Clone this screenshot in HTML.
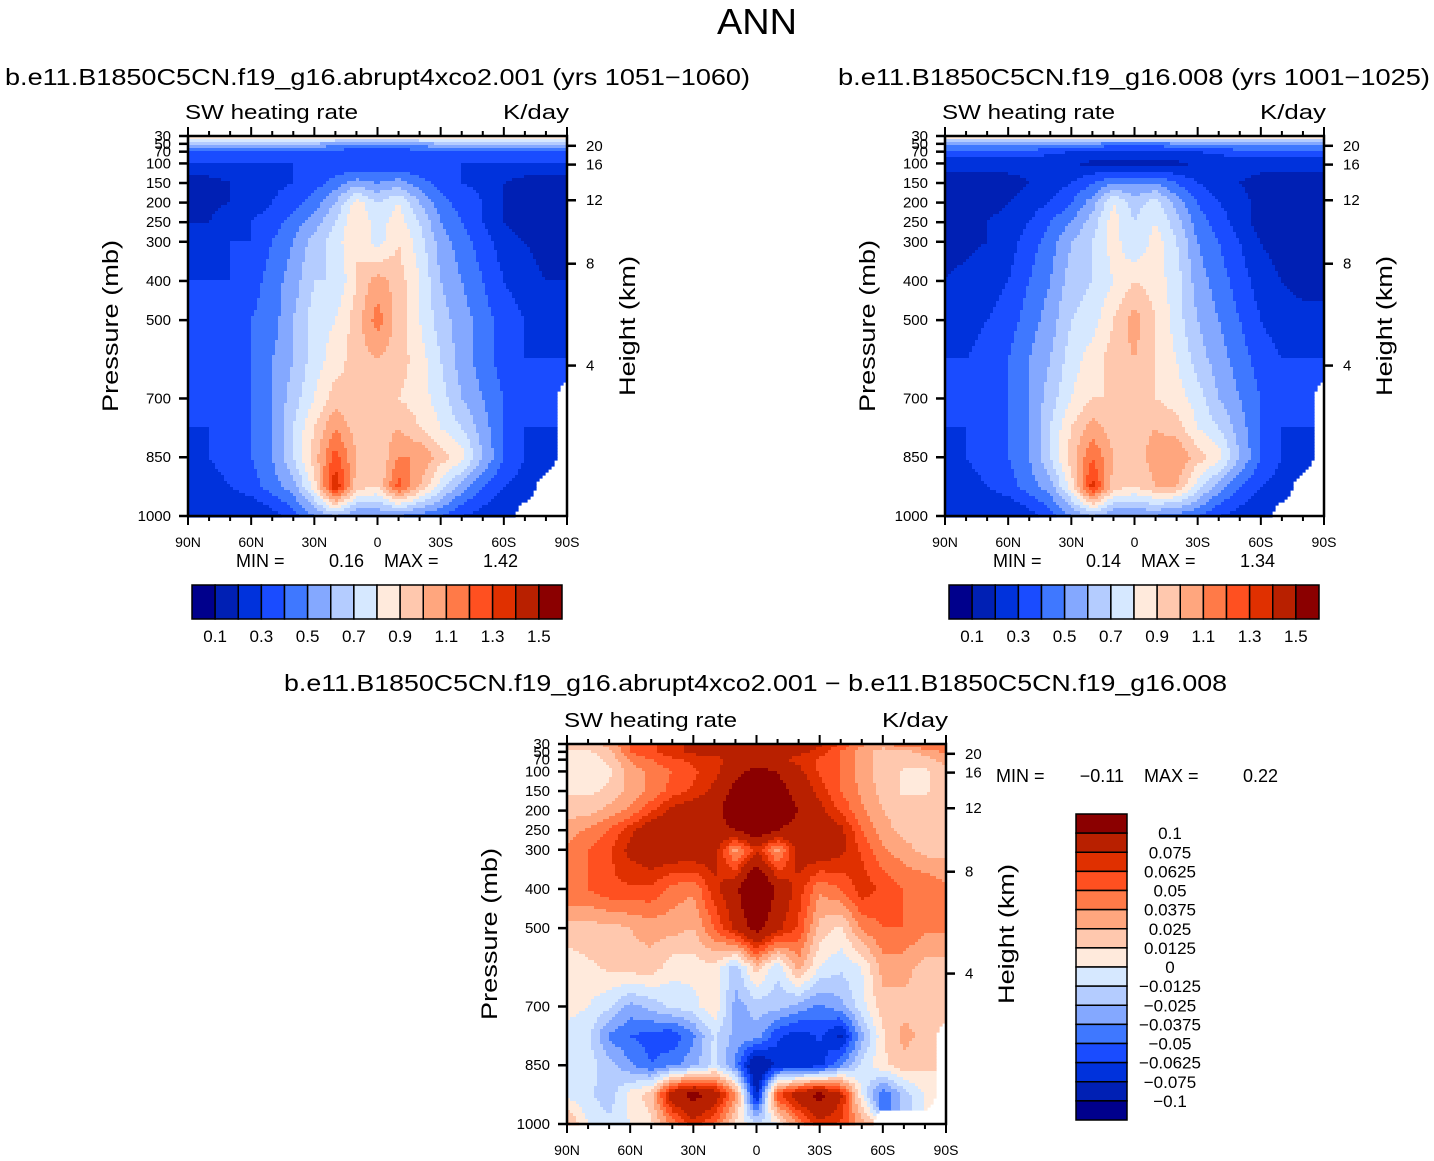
<!DOCTYPE html>
<html><head><meta charset="utf-8"><style>
html,body{margin:0;padding:0;background:#fff;}
svg{display:block;font-family:"Liberation Sans",sans-serif;}
</style></head><body>
<svg id="root" width="1434" height="1161" viewBox="0 0 1434 1161" xmlns="http://www.w3.org/2000/svg">
<text x="757" y="34" font-size="36" text-anchor="middle" textLength="80" lengthAdjust="spacingAndGlyphs">ANN</text>
<text x="5" y="85" font-size="23" textLength="745" lengthAdjust="spacingAndGlyphs">b.e11.B1850C5CN.f19_g16.abrupt4xco2.001 (yrs 1051−1060)</text>
<text x="838" y="85" font-size="23" textLength="592" lengthAdjust="spacingAndGlyphs">b.e11.B1850C5CN.f19_g16.008 (yrs 1001−1025)</text>
<text x="284" y="691" font-size="23" textLength="943" lengthAdjust="spacingAndGlyphs">b.e11.B1850C5CN.f19_g16.abrupt4xco2.001 − b.e11.B1850C5CN.f19_g16.008</text>
</svg>
<script>
const LATS=[90,80,70,60,50,40,30,20,10,0,-10,-20,-30,-40,-50,-60,-70,-80,-90];
const LEVS=[30,50,70,100,150,200,250,300,400,500,600,700,775,850,925,1000];
const N=null;
const ctlA=[
[0.9,0.9,0.9,0.9,0.9,0.9,0.9,0.9,0.95,0.95,0.95,0.9,0.9,0.9,0.9,0.9,0.9,0.9,0.9],
[0.6,0.6,0.6,0.6,0.6,0.6,0.6,0.55,0.5,0.5,0.5,0.55,0.6,0.6,0.6,0.6,0.6,0.6,0.6],
[0.4,0.4,0.4,0.4,0.4,0.4,0.38,0.35,0.35,0.35,0.35,0.35,0.38,0.4,0.4,0.4,0.4,0.4,0.4],
[0.3,0.3,0.3,0.3,0.3,0.3,0.3,0.3,0.3,0.3,0.3,0.3,0.3,0.3,0.3,0.3,0.3,0.3,0.3],
[0.15,0.15,0.2,0.25,0.28,0.3,0.35,0.45,0.55,0.5,0.55,0.45,0.35,0.3,0.28,0.2,0.15,0.15,0.15],
[0.15,0.18,0.2,0.25,0.3,0.35,0.45,0.6,0.85,0.7,0.8,0.6,0.45,0.35,0.3,0.2,0.15,0.15,0.15],
[0.2,0.2,0.25,0.3,0.35,0.45,0.55,0.7,0.9,0.75,0.85,0.7,0.5,0.4,0.3,0.2,0.15,0.15,0.15],
[0.25,0.25,0.3,0.3,0.4,0.5,0.65,0.75,0.9,0.75,0.9,0.75,0.55,0.45,0.35,0.25,0.2,0.15,0.15],
[0.3,0.3,0.3,0.35,0.45,0.55,0.7,0.7,0.9,1.05,0.95,0.8,0.6,0.5,0.4,0.3,0.25,0.2,0.2],
[0.3,0.3,0.3,0.4,0.45,0.6,0.75,0.8,0.95,1.15,0.95,0.8,0.65,0.55,0.45,0.35,0.3,0.25,0.25],
[0.3,0.3,0.35,0.4,0.5,0.6,0.75,0.85,0.95,1.0,0.95,0.85,0.7,0.55,0.45,0.35,0.3,0.3,0.3],
[0.3,0.3,0.35,0.4,0.5,0.65,0.8,0.95,0.9,0.95,0.9,0.85,0.75,0.6,0.5,0.4,0.3,0.3,N],
[0.3,0.3,0.35,0.4,0.5,0.7,0.9,1.1,0.95,0.95,1.0,0.9,0.8,0.7,0.55,0.4,0.3,0.3,N],
[0.25,0.3,0.35,0.4,0.5,0.7,0.95,1.25,1.0,0.9,1.1,1.1,0.95,0.85,0.6,0.4,0.3,0.25,N],
[0.2,0.25,0.3,0.35,0.45,0.55,0.85,1.4,0.95,0.9,1.25,1.0,0.75,0.55,0.4,0.3,0.25,N,N],
[0.2,0.2,0.2,0.2,0.25,0.35,0.5,0.6,0.5,0.5,0.5,0.45,0.4,0.3,0.25,0.2,N,N,N]];
const ctlB=[
[0.9,0.9,0.9,0.9,0.9,0.9,0.9,0.9,0.9,0.9,0.9,0.9,0.9,0.9,0.9,0.9,0.9,0.9,0.9],
[0.55,0.55,0.55,0.55,0.55,0.55,0.55,0.5,0.45,0.45,0.45,0.5,0.55,0.55,0.55,0.55,0.55,0.55,0.55],
[0.35,0.35,0.35,0.35,0.35,0.33,0.3,0.28,0.25,0.25,0.25,0.28,0.3,0.33,0.35,0.35,0.35,0.35,0.35],
[0.25,0.25,0.25,0.25,0.25,0.22,0.2,0.18,0.18,0.18,0.18,0.18,0.2,0.22,0.25,0.25,0.25,0.25,0.25],
[0.15,0.12,0.12,0.15,0.2,0.25,0.3,0.4,0.5,0.5,0.5,0.4,0.3,0.25,0.2,0.15,0.12,0.12,0.12],
[0.12,0.12,0.15,0.2,0.25,0.3,0.4,0.55,0.8,0.65,0.75,0.55,0.4,0.3,0.25,0.15,0.12,0.12,0.12],
[0.15,0.15,0.2,0.25,0.3,0.4,0.5,0.65,0.85,0.7,0.8,0.65,0.45,0.35,0.25,0.15,0.12,0.12,0.12],
[0.18,0.18,0.2,0.25,0.35,0.45,0.6,0.7,0.85,0.7,0.85,0.7,0.5,0.4,0.3,0.2,0.15,0.12,0.12],
[0.2,0.22,0.25,0.3,0.4,0.5,0.65,0.7,0.8,0.9,0.85,0.75,0.55,0.45,0.35,0.25,0.2,0.15,0.15],
[0.25,0.25,0.3,0.35,0.45,0.55,0.7,0.75,0.9,1.05,0.9,0.75,0.6,0.5,0.4,0.3,0.25,0.25,0.25],
[0.3,0.3,0.35,0.4,0.5,0.6,0.75,0.85,0.95,1.0,0.9,0.8,0.65,0.55,0.45,0.35,0.3,0.3,0.3],
[0.3,0.3,0.35,0.4,0.5,0.65,0.8,0.9,0.9,0.95,0.9,0.85,0.75,0.6,0.5,0.4,0.3,0.3,N],
[0.3,0.3,0.35,0.4,0.5,0.7,0.9,1.05,0.95,0.95,1.0,0.95,0.8,0.7,0.55,0.4,0.3,0.3,N],
[0.25,0.3,0.35,0.4,0.5,0.7,0.95,1.2,1.0,0.95,1.05,1.1,0.95,0.85,0.6,0.4,0.3,0.25,N],
[0.2,0.25,0.3,0.35,0.45,0.55,0.85,1.35,0.95,0.9,1.0,1.0,0.75,0.55,0.4,0.3,0.25,N,N],
[0.2,0.2,0.2,0.2,0.25,0.35,0.5,0.6,0.5,0.5,0.5,0.45,0.4,0.3,0.25,0.2,N,N,N]];
const diffC=[
[0.02,0.02,0.03,0.05,0.06,0.07,0.08,0.08,0.08,0.09,0.08,0.08,0.08,0.06,0.04,0.03,0.05,0.05,0.05],
[0.01,0.01,0.02,0.05,0.06,0.07,0.08,0.08,0.08,0.08,0.08,0.08,0.07,0.05,0.03,0.02,0.02,0.03,0.04],
[0.005,0.005,0.015,0.04,0.05,0.06,0.065,0.07,0.08,0.08,0.08,0.07,0.06,0.05,0.03,0.02,0.02,0.02,0.03],
[0.005,0.005,0.01,0.03,0.04,0.05,0.06,0.07,0.09,0.11,0.1,0.08,0.06,0.05,0.03,0.02,0.01,0.01,0.02],
[0.01,0.01,0.015,0.03,0.04,0.055,0.065,0.08,0.11,0.12,0.11,0.09,0.07,0.05,0.035,0.02,0.01,0.01,0.02],
[0.02,0.02,0.03,0.04,0.06,0.08,0.09,0.09,0.12,0.13,0.12,0.1,0.08,0.06,0.04,0.025,0.02,0.02,0.02],
[0.03,0.04,0.05,0.07,0.09,0.1,0.09,0.09,0.1,0.12,0.1,0.09,0.09,0.08,0.05,0.03,0.02,0.02,0.02],
[0.04,0.05,0.06,0.08,0.09,0.09,0.09,0.085,0.03,0.07,0.03,0.085,0.09,0.08,0.06,0.04,0.03,0.02,0.02],
[0.05,0.05,0.06,0.06,0.06,0.045,0.04,0.07,0.09,0.15,0.09,0.07,0.04,0.05,0.07,0.06,0.05,0.05,0.04],
[0.02,0.02,0.02,0.025,0.03,0.03,0.025,0.05,0.08,0.11,0.08,0.06,0.02,0.01,0.04,0.05,0.05,0.04,0.04],
[0.005,0.01,0.015,0.02,0.02,0.005,0.005,0.01,-0.02,0.02,-0.01,0.03,0.0,-0.01,0.0,0.03,0.03,0.02,0.02],
[0.005,0.0,-0.01,-0.03,-0.02,-0.01,-0.005,0.01,-0.03,-0.02,-0.02,-0.03,-0.04,-0.03,-0.005,0.02,0.02,0.02,0.02],
[-0.005,-0.01,-0.04,-0.05,-0.055,-0.06,-0.04,-0.01,-0.03,-0.03,-0.06,-0.07,-0.06,-0.08,-0.03,0.01,0.03,0.02,N],
[0.0,-0.005,-0.02,-0.035,-0.05,-0.04,-0.03,-0.01,-0.04,-0.1,-0.07,-0.07,-0.07,-0.04,-0.01,0.01,0.02,0.015,N],
[-0.005,-0.01,-0.02,0.005,0.02,0.09,0.11,0.09,0.04,-0.08,0.06,0.09,0.11,0.08,0.0,-0.05,-0.02,0.0,N],
[0.03,0.0,-0.01,0.0,0.01,0.04,0.07,0.05,0.01,-0.01,0.0,0.04,0.07,0.06,0.03,N,N,N,N]];
const LEVELS_AB=[0.1,0.2,0.3,0.4,0.5,0.6,0.7,0.8,0.9,1.0,1.1,1.2,1.3,1.4,1.5];
const LEVELS_C=[-0.1,-0.075,-0.0625,-0.05,-0.0375,-0.025,-0.0125,0,0.0125,0.025,0.0375,0.05,0.0625,0.075,0.1];
const LABELS_AB=["0.1","0.3","0.5","0.7","0.9","1.1","1.3","1.5"];
const LABELS_C=["0.1","0.075","0.0625","0.05","0.0375","0.025","0.0125","0","−0.0125","−0.025","−0.0375","−0.05","−0.0625","−0.075","−0.1"];
const P_TICKS=[30,50,70,100,150,200,250,300,400,500,700,850,1000];
const LAT_TICKS=[90,60,30,0,-30,-60,-90];
const LAT_LABELS=["90N","60N","30N","0","30S","60S","90S"];
const H_KM=[4,8,12,16,20];
const H_P=[616,356,194,103,55];
const COLORS=["#00008c","#0020b4","#0032dc","#1a4cff","#3f78ff","#84a8ff","#b4ccff","#d6e8ff","#ffeadc","#ffc8ae","#ffa67e","#ff7a48","#ff5020","#e03000","#b82000","#8b0000"];

const NS="http://www.w3.org/2000/svg";
const root=document.getElementById('root');
function mk(tag,attrs,parent){const e=document.createElementNS(NS,tag);for(const k in attrs)e.setAttribute(k,attrs[k]);(parent||root).appendChild(e);return e;}
function txt(s,attrs,parent){const e=mk('text',attrs,parent);e.textContent=s;return e;}

function interp(grid,lat,p){
  let fi=(90-lat)/10;if(fi<0)fi=0;if(fi>18)fi=18;
  let i0=Math.min(17,Math.floor(fi));let ti=fi-i0;
  let k=0;while(k<LEVS.length-2&&p>LEVS[k+1])k++;
  let tk=(p-LEVS[k])/(LEVS[k+1]-LEVS[k]);tk=Math.max(0,Math.min(1,tk));
  const a=grid[k][i0],b=grid[k][i0+1],c=grid[k+1][i0],d=grid[k+1][i0+1];
  const wa=(1-ti)*(1-tk),wb=ti*(1-tk),wc=(1-ti)*tk,wd=ti*tk;
  let s=0,w=0;
  [[a,wa],[b,wb],[c,wc],[d,wd]].forEach(([v,ww])=>{if(v!==null){s+=v*ww;w+=ww;}});
  if(w<0.5)return null;return s/w;
}
function cidx(v,levels){let n=0;for(const l of levels)if(v+1e-6>=l)n++;return n;}

function panel(id,X0,Y0,grid,levels){
  const W=379,H=380;
  const xOf=lat=>X0+(90-lat)/180*W;
  const yOf=p=>Y0+(p-30)/970*H;
  const g=mk('g',{});
  
  
  const step=3;
  for(let y=Y0;y<Y0+H;y+=step){
    const p=30+(y+step/2-Y0)/H*970;
    let runStart=null,runC=null;
    const flush=(xe)=>{if(runC!==null){const r=mk('rect',{x:runStart,y:y,width:xe-runStart+0.6,height:step+0.6,fill:COLORS[runC]},g);
      
      }};
    for(let x=X0;x<X0+W;x+=step){
      const lat=90-(x+step/2-X0)/W*180;
      const v=interp(grid,lat,p);
      const c=v===null?null:cidx(v,levels);
      if(c!==runC){flush(x);runStart=x;runC=c;}
    }
    flush(X0+W);
  }
  const fr=mk('rect',{x:X0,y:Y0,width:W,height:H,fill:'none',stroke:'#000','stroke-width':2.5});
  
  
  for(let lat=90;lat>=-90;lat-=10){
    const x=xOf(lat),major=lat%30===0,len=major?9:5;
    const t1=mk('line',{x1:x,y1:Y0+H,x2:x,y2:Y0+H+len,stroke:'#000','stroke-width':2});
    
    
    const t2=mk('line',{x1:x,y1:Y0,x2:x,y2:Y0-len,stroke:'#000','stroke-width':2});
    
    
  }
  LAT_TICKS.forEach((lat,i)=>{
    const t=txt(LAT_LABELS[i],{x:xOf(lat),y:Y0+H+31,'font-size':14,'text-anchor':'middle'});
    
    
  });
  P_TICKS.forEach(p=>{
    const y=yOf(p);
    const l=mk('line',{x1:X0-9,y1:y,x2:X0,y2:y,stroke:'#000','stroke-width':2.5});
    
    
    const t=txt(String(p),{x:X0-17,y:y+5,'font-size':15,'text-anchor':'end'});
    
    
  });
  H_KM.forEach((h,i)=>{
    const y=yOf(H_P[i]);
    const l=mk('line',{x1:X0+W,y1:y,x2:X0+W+9,y2:y,stroke:'#000','stroke-width':2.5});
    
    
    const t=txt(String(h),{x:X0+W+19,y:y+5,'font-size':15});
    
    
  });
  const a=txt('SW heating rate',{x:X0-3,y:Y0-17,'font-size':20,textLength:173,lengthAdjust:'spacingAndGlyphs'});
  
  
  const b=txt('K/day',{x:X0+W+2,y:Y0-17,'font-size':20,'text-anchor':'end',textLength:66,lengthAdjust:'spacingAndGlyphs'});
  
  
  const yl=txt('Pressure (mb)',{x:0,y:0,'font-size':22,'text-anchor':'middle',textLength:172,lengthAdjust:'spacingAndGlyphs',transform:`translate(${X0-70},${Y0+190}) rotate(-90)`});
  
  
  const hl=txt('Height (km)',{x:0,y:0,'font-size':22,'text-anchor':'middle',textLength:140,lengthAdjust:'spacingAndGlyphs',transform:`translate(${X0+W+68},${Y0+190}) rotate(-90)`});
  
  
}
panel('panel1',188,136,ctlA,LEVELS_AB);
panel('panel2',945,136,ctlB,LEVELS_AB);
panel('diff',567,744,diffC,LEVELS_C);

function hbar(x0,name){
  const w=370/16;
  COLORS.forEach((c,i)=>{
    const r=mk('rect',{x:x0+i*w,y:585,width:w,height:34,fill:c,stroke:'#000','stroke-width':1.5});
    
    
  });
  LABELS_AB.forEach((s,i)=>{
    const t=txt(s,{x:x0+(1+2*i)*w,y:642,'font-size':17,'text-anchor':'middle'});
    
    
  });
}
hbar(192,'colorbar1');
hbar(949,'colorbar2');
function minmax(x,y,mn,mx,name){
  const g=mk('g',{});
  
  
  txt('MIN =',{x:x,y:y,'font-size':18},g);
  txt(mn,{x:x+128,y:y,'font-size':18,'text-anchor':'end'},g);
  txt('MAX =',{x:x+148,y:y,'font-size':18},g);
  txt(mx,{x:x+282,y:y,'font-size':18,'text-anchor':'end'},g);
}
minmax(236,567,'0.16','1.42','panel1-minmax');
minmax(993,567,'0.14','1.34','panel2-minmax');
minmax(996,782,'−0.11','0.22','diff-minmax');
(function(){
  const h=306/16;
  for(let i=0;i<16;i++){
    const r=mk('rect',{x:1076,y:814+i*h,width:51,height:h,fill:COLORS[15-i],stroke:'#000','stroke-width':1.5});
    
    
  }
  LABELS_C.forEach((s,i)=>{
    const t=txt(s,{x:1170,y:814+(i+1)*h+6,'font-size':17,'text-anchor':'middle'});
    
    
  });
})();
</script>
</body></html>
